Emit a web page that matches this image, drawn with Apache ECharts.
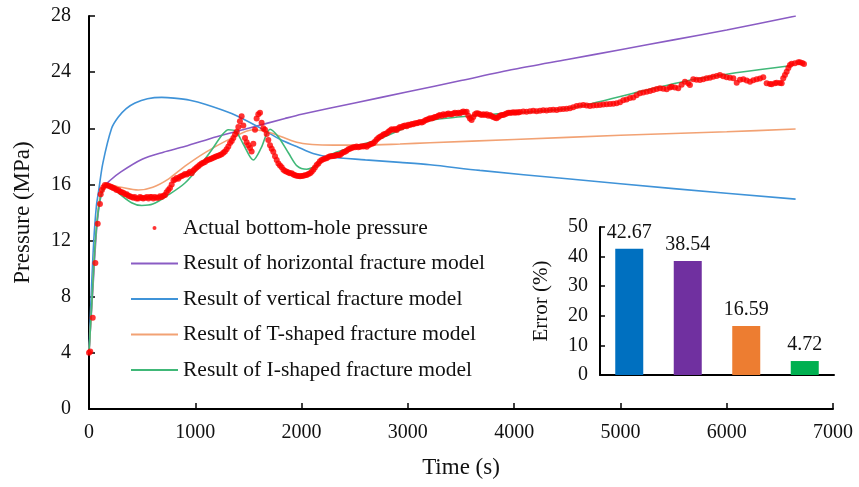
<!DOCTYPE html>
<html>
<head>
<meta charset="utf-8">
<script src="https://cdn.jsdelivr.net/npm/echarts@6/dist/echarts.min.js"></script>
<style>
  html, body { margin: 0; padding: 0; background: #fff; }
  #chart { width: 859px; height: 487px; }
</style>
</head>
<body>
<div id="chart"></div>
<script>
// time (s), pressure (MPa)
const actualPressure = [
  [0,4.0],[12,4.1],[35,6.5],[60,10.4],[82,13.2],[103,14.6],[110,15.3],[122,15.6],[135,15.8],[150,15.96],[167,15.95],[182,15.9],
  [200,15.85],[215,15.8],[229,15.75],[245,15.7],[260,15.6],[276,15.6],[292,15.5],[307,15.45],[323,15.4],[340,15.3],[355,15.3],
  [370,15.2],[385,15.15],[400,15.1],[417,15.05],[430,15.1],[447,15.0],[464,15.0],[480,15.1],[495,15.05],[510,15.0],[527,15.05],
  [545,15.1],[560,15.0],[575,15.1],[590,15.1],[605,15.0],[620,15.1],[636,15.05],[652,15.05],[668,15.15],[683,15.1],[700,15.2],
  [715,15.25],[730,15.45],[746,15.6],[762,15.75],[778,16.0],[795,16.3],[809,16.35],[825,16.45],[840,16.4],[856,16.55],[872,16.6],
  [888,16.65],[903,16.75],[920,16.7],[935,16.8],[950,16.9],[966,16.8],[982,17.0],[997,17.1],[1013,17.2],[1028,17.3],[1044,17.4],
  [1060,17.5],[1075,17.55],[1091,17.6],[1107,17.7],[1122,17.75],[1138,17.8],[1154,17.85],[1170,17.9],[1185,17.95],[1200,18.0],
  [1217,18.05],[1232,18.1],[1248,18.15],[1264,18.25],[1279,18.35],[1295,18.5],[1311,18.7],[1327,18.95],[1343,19.1],[1358,19.3],
  [1374,19.55],[1390,19.75],[1405,20.1],[1420,20.5],[1436,20.85],[1452,20.2],[1468,19.3],[1483,19.0],[1499,18.8],[1515,18.6],
  [1530,18.35],[1546,18.9],[1562,19.9],[1577,20.7],[1593,21.0],[1609,21.1],[1624,20.4],[1640,20.0],[1656,19.9],[1672,19.6],
  [1687,19.16],[1703,18.8],[1719,18.55],[1734,18.33],[1750,18.0],[1766,17.74],[1782,17.5],[1797,17.35],[1813,17.22],[1829,17.05],
  [1845,16.95],[1860,16.9],[1876,16.85],[1891,16.8],[1907,16.79],[1923,16.7],[1938,16.65],[1954,16.62],[1970,16.6],[1986,16.58],
  [2001,16.6],[2017,16.62],[2032,16.65],[2048,16.67],[2064,16.75],[2080,16.8],[2095,16.9],[2111,17.05],[2126,17.2],[2142,17.38],
  [2158,17.5],[2173,17.65],[2189,17.74],[2205,17.8],[2220,17.85],[2236,17.86],[2252,17.95],[2268,18.0],[2283,18.0],[2299,18.03],
  [2315,18.05],[2330,18.1],[2346,18.1],[2361,18.1],[2377,18.2],[2393,18.3],[2408,18.33],[2424,18.4],[2440,18.5],[2455,18.55],
  [2471,18.6],[2487,18.64],[2502,18.65],[2518,18.7],[2534,18.65],[2550,18.69],[2565,18.72],[2581,18.7],[2597,18.75],[2613,18.69],
  [2628,18.8],[2644,18.85],[2660,18.9],[2675,18.93],[2691,19.05],[2707,19.2],[2722,19.3],[2738,19.4],[2754,19.45],[2770,19.55],
  [2785,19.6],[2801,19.64],[2817,19.75],[2832,19.85],[2848,19.93],[2864,19.9],[2880,19.95],[2895,19.88],[2911,20.0],[2926,20.1],
  [2942,20.05],[2957,20.16],[2973,20.2],[2989,20.15],[3004,20.25],[3020,20.23],[3036,20.3],[3051,20.28],[3067,20.35],[3083,20.35],
  [3098,20.4],[3114,20.45],[3130,20.42],[3145,20.47],[3161,20.55],[3177,20.6],[3192,20.65],[3208,20.71],[3224,20.7],[3240,20.75],
  [3255,20.8],[3271,20.83],[3287,20.9],[3302,20.95],[3318,20.9],[3334,21.0],[3350,20.95],[3365,21.0],[3381,21.05],[3396,21.0],
  [3412,21.0],[3428,21.05],[3443,21.1],[3459,21.05],[3475,21.1],[3490,21.07],[3506,21.15],[3522,21.2],[3537,21.15],[3553,21.18],
  [3569,20.9],[3584,20.7],[3600,20.59],[3616,20.8],[3631,21.0],[3647,21.07],[3663,21.05],[3678,21.0],[3694,20.95],[3710,21.0],
  [3725,20.95],[3741,21.0],[3757,20.9],[3772,20.95],[3788,20.85],[3804,20.8],[3820,20.75],[3835,20.71],[3851,20.8],[3867,20.9],
  [3882,20.95],[3898,20.95],[3914,21.0],[3929,21.05],[3945,21.1],[3961,21.11],[3976,21.1],[3992,21.15],[4008,21.1],[4023,21.15],
  [4039,21.12],[4055,21.16],[4086,21.2],[4117,21.18],[4149,21.21],[4180,21.25],[4211,21.22],[4243,21.25],[4274,21.28],[4305,21.26],
  [4337,21.3],[4368,21.32],[4400,21.3],[4431,21.35],[4462,21.38],[4494,21.4],[4525,21.42],[4556,21.5],[4588,21.59],[4619,21.62],
  [4651,21.66],[4682,21.62],[4713,21.59],[4745,21.62],[4776,21.64],[4807,21.66],[4839,21.7],[4870,21.72],[4902,21.73],[4933,21.75],
  [4964,21.78],[4996,21.85],[5027,22.0],[5058,22.05],[5090,22.15],[5121,22.2],[5152,22.35],[5184,22.49],[5215,22.55],[5247,22.6],
  [5278,22.65],[5309,22.73],[5341,22.8],[5372,22.85],[5403,22.82],[5435,22.78],[5466,22.9],[5482,22.96],[5513,22.9],[5544,22.85],
  [5576,23.1],[5607,23.32],[5638,23.2],[5654,23.08],[5685,23.49],[5716,23.45],[5748,23.44],[5779,23.5],[5811,23.56],[5842,23.6],
  [5873,23.68],[5905,23.72],[5936,23.8],[5967,23.7],[5999,23.63],[6030,23.6],[6062,23.56],[6094,23.25],[6125,23.45],[6156,23.49],
  [6188,23.4],[6219,23.32],[6250,23.42],[6282,23.49],[6313,23.55],[6344,23.63],[6376,23.2],[6407,23.15],[6423,23.13],[6454,23.2],
  [6470,23.25],[6501,23.22],[6517,23.2],[6532,23.56],[6548,23.8],[6564,24.03],[6580,24.3],[6595,24.51],[6611,24.6],[6642,24.63],
  [6673,24.7],[6689,24.7],[6711,24.65],[6727,24.58]
];

const horizontalModel = [
  [0,4],[40,9],[80,13.5],[130,15.7],[200,16.3],[300,16.9],[500,17.8],[700,18.3],[900,18.7],[1200,19.4],[1500,20.0],
  [1844,20.7],[2000,21.0],[2500,21.8],[3000,22.6],[3500,23.4],[4000,24.2],[4500,24.9],[5000,25.6],[5500,26.3],[6000,27.0],[6650,28.0]
];

const verticalModel = [
  [0,4],[20,8],[45,12],[70,14.5],[90,15.5],[130,17.5],[213,20.0],[276,20.8],[350,21.4],[433,21.8],[550,22.1],[684,22.2],
  [800,22.15],[950,22.0],[1100,21.7],[1342,21.05],[1592,20.1],[1800,19.2],[1954,18.7],[2108,18.2],[2267,17.95],[2600,17.75],
  [2926,17.57],[3208,17.4],[3678,17.0],[4500,16.4],[5500,15.7],[6648,14.95]
];

const tShapedModel = [
  [0,4],[30,8],[60,12],[100,15],[150,16.0],[213,15.96],[300,15.8],[464,15.6],[600,15.8],[750,16.4],[903,17.3],[1100,18.3],
  [1342,19.3],[1543,19.9],[1700,19.7],[1954,19.0],[2100,18.85],[2300,18.8],[2600,18.8],[2926,18.88],[3208,18.97],[4000,19.2],
  [5000,19.5],[6000,19.75],[6648,19.95]
];

const iShapedModel = [
  [0,4],[30,8],[60,12],[100,14.8],[150,15.8],[213,15.9],[276,15.4],[400,14.7],[496,14.5],[600,14.6],[746,15.25],[903,16.1],
  [1050,17.4],[1154,18.45],[1250,19.5],[1311,19.9],[1380,19.8],[1450,18.9],[1546,17.74],[1620,18.6],[1703,19.93],[1780,19.4],
  [1880,18.2],[1960,17.3],[2048,17.08],[2150,17.4],[2267,18.1],[2450,18.6],[2707,19.16],[3000,20.1],[3240,20.6],[3800,21.0],
  [4494,21.4],[5121,22.5],[5748,23.56],[6595,24.46]
];

const seriesNames = [
  "Actual bottom-hole pressure",
  "Result of horizontal fracture model",
  "Result of vertical fracture model",
  "Result of T-shaped fracture model",
  "Result of I-shaped fracture model"
];

// inset: error of each model (%)
const errorModels = ["Vertical", "Horizontal", "T-shaped", "I-shaped"];
const errorValues = [42.67, 38.54, 16.59, 4.72];
const errorColors = ["#0070C0", "#7030A0", "#ED7D31", "#00B050"];

const FONT = "'Liberation Serif', 'Times New Roman', serif";
const lineColors = ["#8a5cc4", "#3f93d8", "#f2a274", "#40b878"];
const modelData = [horizontalModel, verticalModel, tShapedModel, iShapedModel];

const chart = echarts.init(document.getElementById("chart"));

function modelSeries(i) {
  return {
    name: seriesNames[i + 1],
    type: "line",
    xAxisIndex: 0,
    yAxisIndex: 0,
    data: modelData[i],
    smooth: 0.3,
    symbol: "none",
    z: 2,
    lineStyle: { color: lineColors[i], width: 1.6 },
    itemStyle: { color: lineColors[i] }
  };
}

// legend entries: lines get no centre dot
const legendData = seriesNames.map((name, i) =>
  i === 0 ? { name } : { name, itemStyle: { color: "rgba(0,0,0,0)", borderWidth: 0 } }
);

chart.setOption({
  animation: false,
  textStyle: { fontFamily: FONT },
  grid: [
    { left: 89, right: 26, top: 16, bottom: 78 },
    { left: 600, right: 25, top: 227, bottom: 112 }
  ],
  legend: {
    orient: "vertical",
    left: 130,
    top: 216,
    padding: 0,
    itemWidth: 47,
    itemHeight: 4,
    itemGap: 11.5,
    data: legendData,
    textStyle: { fontFamily: FONT, fontSize: 21.5, lineHeight: 24, color: "#111" }
  },
  xAxis: [
    {
      type: "value",
      gridIndex: 0,
      min: 0,
      max: 7000,
      interval: 1000,
      name: "Time (s)",
      nameLocation: "middle",
      nameGap: 47,
      nameTextStyle: { fontFamily: FONT, fontSize: 23, color: "#111" },
      axisLine: { lineStyle: { color: "#000", width: 2 } },
      axisTick: { inside: true, length: 6, lineStyle: { color: "#000", width: 1.5 } },
      axisLabel: { fontFamily: FONT, fontSize: 20, color: "#111", margin: 14, formatter: (v) => String(v) },
      splitLine: { show: false }
    },
    {
      type: "category",
      gridIndex: 1,
      data: errorModels,
      axisLine: { lineStyle: { color: "#000", width: 2 } },
      axisTick: { show: false },
      axisLabel: { show: false }
    }
  ],
  yAxis: [
    {
      type: "value",
      gridIndex: 0,
      min: 0,
      max: 28,
      interval: 4,
      name: "Pressure (MPa)",
      nameLocation: "middle",
      nameGap: 55,
      nameTextStyle: { fontFamily: FONT, fontSize: 23, color: "#111" },
      axisLine: { show: true, lineStyle: { color: "#000", width: 2 } },
      axisTick: { show: true, inside: true, length: 6, lineStyle: { color: "#000", width: 1.5 } },
      axisLabel: { fontFamily: FONT, fontSize: 20, color: "#111", margin: 18 },
      splitLine: { show: false }
    },
    {
      type: "value",
      gridIndex: 1,
      min: 0,
      max: 50,
      interval: 10,
      name: "Error (%)",
      nameLocation: "middle",
      nameGap: 48,
      nameTextStyle: { fontFamily: FONT, fontSize: 21, color: "#111" },
      axisLine: { show: true, lineStyle: { color: "#000", width: 2 } },
      axisTick: { show: true, inside: true, length: 5, lineStyle: { color: "#000", width: 1.5 } },
      axisLabel: { fontFamily: FONT, fontSize: 20, color: "#111", margin: 12 },
      splitLine: { show: false }
    }
  ],
  series: [
    {
      name: seriesNames[0],
      type: "scatter",
      xAxisIndex: 0,
      yAxisIndex: 0,
      data: actualPressure,
      symbol: "circle",
      symbolSize: 6,
      z: 3,
      itemStyle: { color: "#ff0000" }
    },
    modelSeries(0),
    modelSeries(1),
    modelSeries(2),
    modelSeries(3),
    {
      type: "bar",
      xAxisIndex: 1,
      yAxisIndex: 1,
      barWidth: 28,
      data: errorValues.map((v, i) => ({ value: v, itemStyle: { color: errorColors[i] } })),
      label: {
        show: true,
        position: "top",
        distance: 6,
        fontFamily: FONT,
        fontSize: 20,
        color: "#111",
        formatter: (p) => p.value.toFixed(2)
      }
    }
  ]
});
</script>
</body>
</html>
